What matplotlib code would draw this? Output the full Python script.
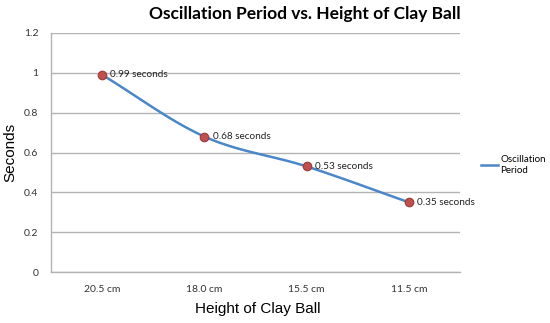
import numpy as np
import matplotlib.pyplot as plt

heights = ['20.5 cm', '18.0 cm', '15.5 cm', '11.5 cm']
periods = [0.99, 0.68, 0.53, 0.35]
point_labels = ['0.99 seconds', '0.68 seconds', '0.53 seconds', '0.35 seconds']
y_ticks = [0, 0.2, 0.4, 0.6, 0.8, 1, 1.2]
y_tick_labels = ['0', '0.2', '0.4', '0.6', '0.8', '1', '1.2']


def smooth(xs, ys, n=30):
    # Catmull-Rom style curve through the points, like a spreadsheet "smoothed line"
    px = np.concatenate([[2 * xs[0] - xs[1]], xs, [2 * xs[-1] - xs[-2]]])
    py = np.concatenate([[2 * ys[0] - ys[1]], ys, [2 * ys[-1] - ys[-2]]])
    out_x, out_y = [], []
    for i in range(1, len(px) - 2):
        t = np.linspace(0, 1, n)
        f = lambda a, b, c, d: 0.5 * (2 * b + (-a + c) * t + (2 * a - 5 * b + 4 * c - d) * t ** 2
                                      + (-a + 3 * b - 3 * c + d) * t ** 3)
        out_x.extend(f(px[i - 1], px[i], px[i + 1], px[i + 2]))
        out_y.extend(f(py[i - 1], py[i], py[i + 1], py[i + 2]))
    return np.array(out_x), np.array(out_y)


fig = plt.figure(figsize=(5.5, 3.23), dpi=100)
ax = fig.add_axes([51 / 550, 1 - 272 / 323, 409 / 550, 239 / 323])

x = np.arange(len(heights))
sx, sy = smooth(x.astype(float), np.array(periods))
line, = ax.plot(sx, sy, color='#4a86c8', lw=1.8, label='Oscillation\nPeriod', zorder=3)
ax.scatter(x, periods, s=38, color='#c0504d', edgecolor='#9c3a37', linewidth=0.8, zorder=4)
for xi, yi, lab in zip(x, periods, point_labels):
    ax.annotate(lab, (xi, yi), xytext=(6, 0), textcoords='offset points',
                fontsize=7.2, family='Lato', color='#222222', va='center')

ax.set_xlim(-0.5, 3.5)
ax.set_ylim(0, 1.2)
ax.set_xticks(x)
ax.set_xticklabels(heights, family='Lato', fontsize=7.5, color='#333333')
ax.set_yticks(y_ticks)
ax.set_yticklabels(y_tick_labels, family='Lato', fontsize=7.5, color='#333333')
ax.tick_params(axis='x', length=0, pad=9)
ax.tick_params(axis='y', length=0, pad=9)
ax.grid(axis='y', color='#b3b3b3', lw=1)
ax.set_axisbelow(True)
for s in ['top', 'right']:
    ax.spines[s].set_visible(False)
for s in ['left', 'bottom']:
    ax.spines[s].set_color('#b3b3b3')
    ax.spines[s].set_linewidth(1)

fig.text(258 / 550, 1 - 309 / 323, 'Height of Clay Ball', family='Liberation Sans',
         fontsize=11, ha='center', va='center')
fig.text(10 / 550, 1 - 152 / 323, 'Seconds', family='Liberation Sans', fontsize=11,
         rotation=90, ha='center', va='center')

fig.text(305 / 550, 1 - 14 / 323, 'Oscillation Period vs. Height of Clay Ball',
         family='Lato', fontweight='bold', fontsize=12.5, ha='center', va='center')

fig.legend(handles=[line], loc='center left', bbox_to_anchor=(472 / 550, 1 - 165 / 323),
           frameon=False, prop={'family': 'Lato', 'size': 7}, handlelength=1.8, handletextpad=0.2)

fig.savefig('out.png', dpi=100)
